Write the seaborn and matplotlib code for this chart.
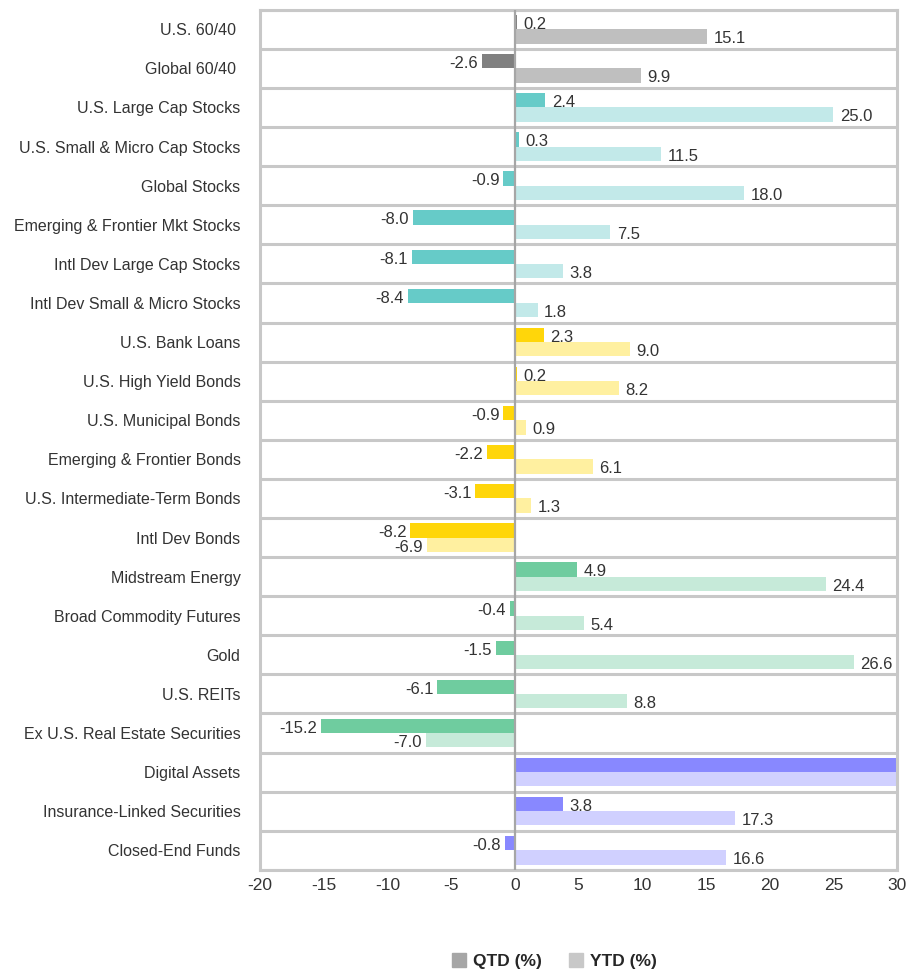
import pandas as pd
import numpy as np
import matplotlib
matplotlib.use("Agg")
import matplotlib.pyplot as plt
import seaborn as sns
from matplotlib.patches import Patch

# --- data ---
assets = [
    "U.S. 60/40 ", "Global 60/40 ", "U.S. Large Cap Stocks", "U.S. Small & Micro Cap Stocks",
    "Global Stocks", "Emerging & Frontier Mkt Stocks", "Intl Dev Large Cap Stocks",
    "Intl Dev Small & Micro Stocks", "U.S. Bank Loans", "U.S. High Yield Bonds",
    "U.S. Municipal Bonds", "Emerging & Frontier Bonds", "U.S. Intermediate-Term Bonds",
    "Intl Dev Bonds", "Midstream Energy", "Broad Commodity Futures", "Gold", "U.S. REITs",
    "Ex U.S. Real Estate Securities", "Digital Assets", "Insurance-Linked Securities",
    "Closed-End Funds",
]
qtd = [0.2, -2.6, 2.4, 0.3, -0.9, -8.0, -8.1, -8.4, 2.3, 0.2, -0.9, -2.2, -3.1, -8.2,
       4.9, -0.4, -1.5, -6.1, -15.2, 47.7, 3.8, -0.8]
ytd = [15.1, 9.9, 25.0, 11.5, 18.0, 7.5, 3.8, 1.8, 9.0, 8.2, 0.9, 6.1, 1.3, -6.9,
       24.4, 5.4, 26.6, 8.8, -7.0, 121.1, 17.3, 16.6]
groups = ["balanced"] * 2 + ["stocks"] * 6 + ["bonds"] * 6 + ["real"] * 5 + ["alts"] * 3

# colours per group: (QTD, YTD)
palette = {
    "balanced": ("#808080", "#bfbfbf"),
    "stocks": ("#66cbc8", "#c2e9e9"),
    "bonds": ("#ffd60a", "#fff0a0"),
    "real": ("#6fcc9f", "#c6ead9"),
    "alts": ("#8888ff", "#d0d0ff"),
}

df = pd.DataFrame({
    "asset": assets * 2,
    "value": qtd + ytd,
    "period": ["QTD (%)"] * len(assets) + ["YTD (%)"] * len(assets),
})

sns.set_style("white")
plt.rcParams["font.family"] = ["Liberation Sans", "DejaVu Sans"]
plt.rcParams["axes.unicode_minus"] = False

fig = plt.figure(figsize=(9.09, 9.73), dpi=100)
ax = fig.add_axes([0.286, 0.106, 0.701, 0.884])

sns.barplot(data=df, y="asset", x="value", hue="period", orient="h",
            width=0.73, ax=ax, legend=False, order=assets, saturation=1)

# recolour bars by group (patches ordered: hue level, then category)
n = len(assets)
for k, bar in enumerate(ax.patches[:2 * n]):
    h = k // n
    i = k % n
    bar.set_facecolor(palette[groups[i]][h])
    bar.set_edgecolor("none")

ax.set_xlim(-20, 30)
ax.set_ylim(n - 0.5, -0.5)
ax.set_xticks(range(-20, 31, 5))
ax.set_xlabel("")
ax.set_ylabel("")
ax.tick_params(axis="both", length=0, labelsize=12.5, colors="#333333")
ax.tick_params(axis="x", pad=6)
ax.tick_params(axis="y", labelsize=11.5, pad=14)

# row separators and frame
for y in np.arange(-0.5, n, 1.0):
    ax.axhline(y, color="#c8c8c8", lw=2.2, zorder=0.5)
ax.axvline(0, color="#a6a6a6", lw=1.6, zorder=3)
for side in ["left", "right", "top", "bottom"]:
    ax.spines[side].set_visible(True)
    ax.spines[side].set_color("#c8c8c8")
    ax.spines[side].set_linewidth(2.2)

# data labels
bw = 0.73 / 2
for i in range(n):
    for h, vals in enumerate([qtd, ytd]):
        v = vals[i]
        if abs(v) > 30:
            continue
        yc = i - bw / 2 + h * bw + 0.06
        if v >= 0:
            ax.text(v + 0.5, yc, f"{v:.1f}", ha="left", va="center", fontsize=12, color="#333333")
        else:
            ax.text(v - 0.3, yc, f"{v:.1f}", ha="right", va="center", fontsize=12, color="#333333")

handles = [Patch(color="#a6a6a6", label="QTD (%)"), Patch(color="#c8c8c8", label="YTD (%)")]
leg = fig.legend(handles=handles, loc="center", bbox_to_anchor=(0.61, 0.012), ncol=2,
                 frameon=False, handlelength=0.8, handleheight=0.8, handletextpad=0.4,
                 columnspacing=1.6, prop={"size": 12.5, "weight": "bold"})

fig.savefig("out.png", dpi=100)
